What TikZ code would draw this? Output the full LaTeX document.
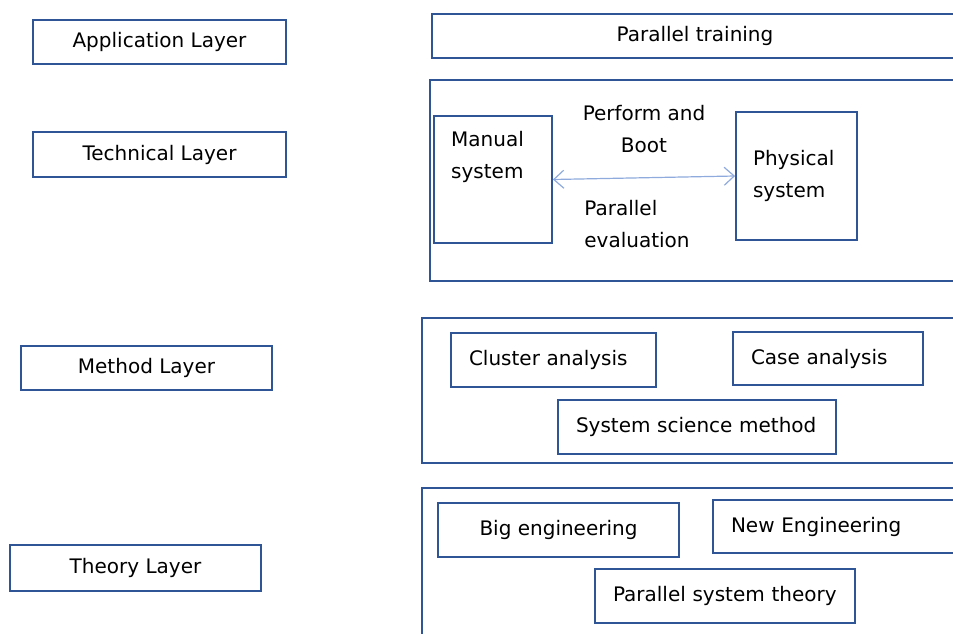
\documentclass[tikz,border=0pt]{standalone}
\usepackage{fontspec}
\setmainfont{DejaVu Sans}
\usetikzlibrary{arrows.meta}
\definecolor{boxblue}{HTML}{2F5597}
\definecolor{arrowblue}{HTML}{8FAADC}
\begin{document}
\begin{tikzpicture}[x=1pt,y=-1pt,
    every node/.style={font=\fontsize{20}{32}\selectfont,text=black},
    box/.style={draw=boxblue,line width=1.8pt,inner sep=0pt},
    lbox/.style={box,align=left,inner xsep=18pt},
    txt/.style={inner sep=0pt,align=left}]
  \clip (0,0) rectangle (953,634);
  \node (app) [box,minimum width=253,minimum height=44] at (159.5,42) {Application Layer};
  \node (tech) [box,minimum width=253,minimum height=45] at (159.5,154.5) {Technical Layer};
  \node (method) [box,minimum width=251,minimum height=44] at (146.5,368) {Method Layer};
  \node (theory) [box,minimum width=251,minimum height=46] at (135.5,568) {Theory Layer};
  \node (ptrain) [box,minimum width=526,minimum height=44] at (695,36) {Parallel training};
  \node (techfr) [box,minimum width=530,minimum height=201] at (695,180.5) {};
  \node (manual) [box,minimum width=118,minimum height=127] at (493,179.5) {};
  \node (manualtxt) [txt,anchor=north west] at (451,131) {Manual\\system};
  \node (physical) [lbox,text width=87,minimum width=121,minimum height=128,inner xsep=17pt] at (796.5,176) {Physical\\system};
  \draw[arrowblue,line width=1.2pt,{Straight Barb[length=10pt,width=18pt]}-{Straight Barb[length=10pt,width=18pt]}]
    (manual.east) -- node [txt,align=center,above=24pt] {Perform and\\Boot}
    node [txt,below=22pt,xshift=-7pt] {Parallel\\evaluation} (physical.west);
  \node (methodfr) [box,minimum width=538,minimum height=145] at (691,390.5) {};
  \node (cluster) [lbox,text width=169,minimum height=54] at (553.5,360) {Cluster analysis};
  \node (case) [lbox,text width=154,minimum height=53] at (828,358.5) {Case analysis};
  \node (syssci) [lbox,text width=242,minimum height=54] at (697,427) {System science method};
  \node (theoryfr) [box,minimum width=538,minimum height=162] at (691,569) {};
  \node (bigeng) [box,minimum width=241,minimum height=54] at (558.5,530) {Big engineering};
  \node (neweng) [lbox,text width=211,minimum height=53] at (836.5,526.5) {New Engineering};
  \node (pst) [lbox,text width=224,minimum height=54] at (725,596) {Parallel system theory};
\end{tikzpicture}
\end{document}
